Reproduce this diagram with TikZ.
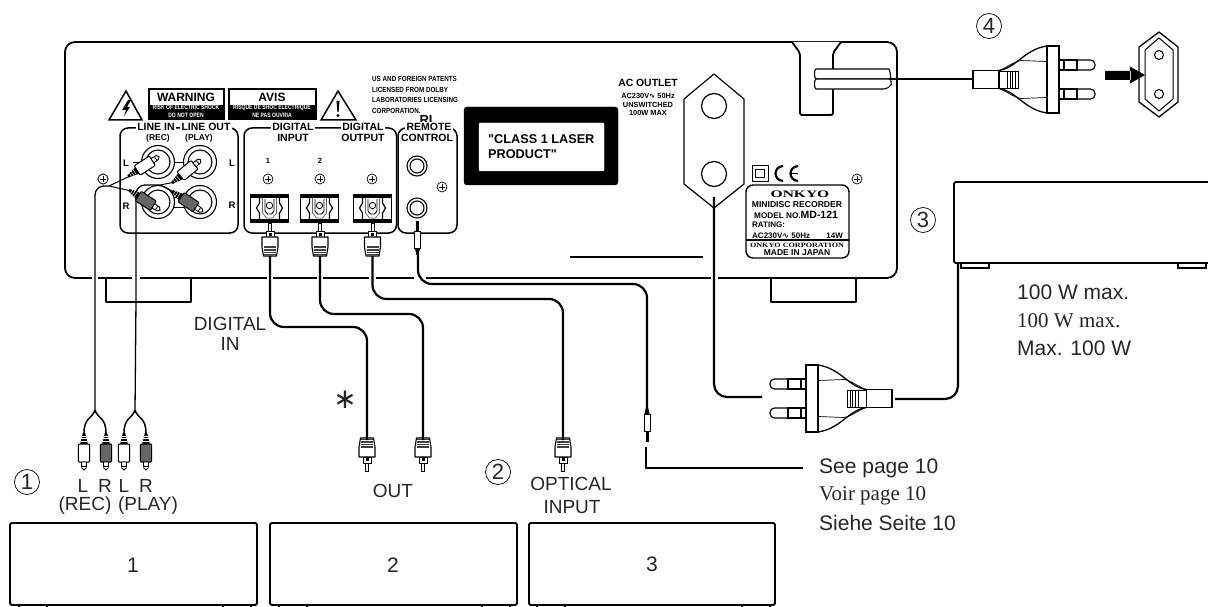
\documentclass[tikz,border=0pt]{standalone}
\usepackage{fontspec}
\setmainfont{Liberation Sans}
\newfontfamily\serifx{Liberation Serif}
\newfontfamily\djv{DejaVu Sans}
\newfontfamily\rawsans{Liberation Sans}
\newcommand{\fz}[1]{\fontsize{#1}{#1}\selectfont}
\newcommand{\wav}{{\djv\char"223F}}
\newcommand{\nar}[2]{\scalebox{#1}[1]{#2}}
\tikzset{
  outline/.style={draw=black,line width=1.8pt,line join=round},
  thinln/.style={draw=black,line width=0.8pt},
  cable/.style={draw=black,line width=2.2pt},
  rcawire/.style={draw=black,line width=1.3pt},
  lab/.style={inner sep=0pt,text=black!85,font=\fz{19}},
  big/.style={inner sep=0pt,text=black!85,font=\fz{21}},
  serifbig/.style={inner sep=0pt,text=black!85,font=\serifx\fz{21}},
  bd/.style={inner sep=0pt,font=\bfseries\fz{#1}},
  title/.style={fill=white,inner sep=1.2pt,font=\bfseries\fz{10.5}},
  screw/.style={draw=black,line width=0.7pt,fill=white},
  num/.style={draw=black,line width=0.7pt,circle,minimum size=25pt,inner sep=0pt,font=\fz{22},text=black!85},
}
% optical plug: (x,y) tip end; dir = 1 body below tip, -1 body above tip
\newcommand{\optplug}[3]{%
 \begin{scope}[shift={(#1,#2)},yscale=#3]
  \draw[line width=0.9pt,fill=white] (-1.5,0) rectangle (1.5,8);
  \draw[line width=0.9pt,fill=white] (-4,8) rectangle (4,14);
  \fill[black] (-1.5,10) rectangle (1.5,13);
  \draw[line width=1.1pt,fill=white,line join=round] (-8,14) -- (-8,24) -- (-6.5,33) -- (6.5,33) -- (8,24) -- (8,14) -- cycle;
  \fill[black!75] (-6,23) rectangle (6,32);
  \draw[white,line width=0.5pt] (-6,25.5) -- (6,25.5) (-6,28) -- (6,28) (-6,30.3) -- (6,30.3);
 \end{scope}}
% RCA plug: base at (x,y), paper angle, body fill
\newcommand{\rcaplug}[4]{%
 \begin{scope}[shift={(#1,#2)},rotate=#3]
  \fill[black] (0,-1.2) -- (11,-3.8) -- (11,3.8) -- (0,1.2) -- cycle;
  \draw[white,line width=0.45pt] (3,-2) -- (3,2) (5.5,-3) -- (5.5,3) (8,-3) -- (8,3);
  \draw[line width=1pt,fill=#4,rounded corners=1pt] (11,-5.6) rectangle (29,5.6);
  \draw[line width=0.9pt,fill=white] (29,-2.6) -- (35,-2.2) -- (37,0) -- (35,2.2) -- (29,2.6) -- cycle;
  \draw[line width=0.7pt] (33,-2.4) -- (33,2.4);
 \end{scope}}
% optical socket, centred on x
\newcommand{\optsock}[1]{%
 \begin{scope}[shift={(#1,0)}]
  \fill[black] (-19.5,194) rectangle (19.5,223);
  \fill[white] (-18.5,198) rectangle (18.5,218.5);
  \draw[line width=1.2pt] (-10,198) -- (-10,203) -- (-13,208) -- (-10,213) -- (-10,219);
  \draw[line width=1.2pt] (10,198) -- (10,203) -- (13,208) -- (10,213) -- (10,219);
  \draw[black!60,line width=0.7pt] (-7,198) -- (-7,213) -- (-3,218) -- (3,218) -- (7,213) -- (7,198);
  \draw[line width=0.9pt] (-4.5,199) -- (-4.5,211) -- (-2,214) -- (2,214) -- (4.5,211) -- (4.5,199);
  \draw[line width=0.8pt] (0,205.5) circle (3.2);
 \end{scope}}
% jack plug: (x,y) tip end; dir
\newcommand{\jackplug}[3]{%
 \begin{scope}[shift={(#1,#2)},yscale=#3]
  \draw[line width=0.9pt,fill=black] (-1,0) rectangle (1,10);
  \draw[line width=0.8pt,fill=white] (-3,10) rectangle (3,27);
  \fill[black] (-2.6,27) -- (2.6,27) -- (1,34) -- (-1,34) -- cycle;
 \end{scope}}
\newcommand{\screwat}[2]{%
  \draw[screw] (#1,#2) circle (5);
  \draw[line width=0.7pt] (#1-3,#2) -- (#1+3,#2) (#1,#2-3) -- (#1,#2+3);}
% mains plug; shift, xscale
\newcommand{\mainsplug}[3]{%
 \begin{scope}[shift={(#1,#2)},xscale=#3]
  \foreach \v in {-14.5,14.5}{
   \draw[line width=1.2pt,fill=white,rounded corners=4.5pt] (-18,\v-5) -- (-36,\v-5) -- (-36,\v+5) -- (-18,\v+5);
   \draw[line width=1.2pt,fill=white] (-18,\v-5) rectangle (0,\v+5);
   \draw[line width=1.2pt] (-5,\v-5) -- (-5,\v+5);
  }
  \draw[line width=1.3pt,fill=white] (12,-33.5) .. controls (35,-30) and (42,-12) .. (60,-9)
     -- (60,9) .. controls (42,12) and (35,30) .. (12,33.5) -- cycle;
  \draw[line width=0.7pt] (12,-18) -- (38,-19) .. controls (45,-18) and (52,-12) .. (60,-9);
  \draw[line width=0.7pt] (12,18) -- (38,19) .. controls (45,18) and (52,12) .. (60,9);
  \draw[line width=1.3pt,fill=white] (0,-33.5) rectangle (12,33.5);
  \draw[line width=1.3pt,fill=white] (60,-9) rectangle (86,9);
  \draw[line width=0.6pt,fill=white] (41,-8.5) rectangle (60,8.5);
  \draw[line width=0.5pt] (44,-8.5) -- (44,8.5) (46.5,-8.5) -- (46.5,8.5) (49,-8.5) -- (49,8.5) (52,-8.5) -- (52,8.5);
 \end{scope}}
\begin{document}
\begin{tikzpicture}[x=1pt,y=-1pt]
\clip (0,0) rectangle (1208,607);
\fill[white] (0,0) rectangle (1208,607);
% --- main chassis
\draw[outline,rounded corners=10pt] (65,42) rectangle (897,278);
\draw[outline] (106,278) -- (106,302) -- (191,302) -- (191,278);
\draw[outline] (771,278) -- (771,302) -- (856,302) -- (856,278);
\foreach \a/\b in {92/98,132/140,267/273,317/323,369/376,414/426,711/718}{\fill[white] (\a,275) rectangle (\b,281);}
% handle
\draw[outline,fill=white,rounded corners=2pt] (792,42) -- (800,53) -- (800,115) -- (833,115) -- (833,53) -- (841,42);
\draw[line width=1.1pt,fill=white,rounded corners=5pt] (889,69) -- (821,69) .. controls (814,69) and (814,79) .. (821,79) -- (889,79);
\draw[line width=1.1pt,fill=white,rounded corners=5pt] (889,79) -- (821,79) .. controls (814,79) and (814,89) .. (821,89) -- (889,89) .. controls (891,85) and (891,73) .. (889,69);
% warnings
\fill[black] (148,88) rectangle (225,120);
\fill[white] (150,90) rectangle (223,105);
\fill[black] (228,88) rectangle (317,120);
\fill[white] (230,90) rectangle (315,105);
\node[bd=12] (warn) at (186,97.5) {WARNING};
\node[bd=12] (avis) at (272,97.5) {AVIS};
\node[bd=6.3,text=white] (w1) at (186,107.5) {\nar{.8}{RISK OF ELECTRIC SHOCK}};
\node[bd=6.3,text=white] (w2) at (186,115) {\nar{.8}{DO NOT OPEN}};
\node[bd=6.3,text=white] (a1) at (272,107.5) {\nar{.8}{RISQUE DE SHOC ELECTRIQUE}};
\node[bd=6.3,text=white] (a2) at (272,115) {\nar{.8}{NE PAS OUVRIA}};
\draw[line width=1.5pt,line join=miter] (126,91) -- (109,120) -- (142,120) -- cycle;
\fill[black] (128,100) -- (122,110) -- (126,110) -- (124,116) -- (130,107) -- (127,107) -- (131,100) -- cycle;
\draw[line width=1.5pt,line join=miter] (338,91) -- (321,120) -- (356,120) -- cycle;
\fill[black] (336.5,101) -- (339.5,101) -- (338.6,112) -- (337.4,112) -- cycle;
\fill[black] (338,115.5) circle (1.7);
% patents
\node[bd=7.4,anchor=west] (p1) at (372,78.5) {\nar{.85}{US AND FOREIGN PATENTS}};
\node[bd=7.4,anchor=west] (p2) at (372,90) {\nar{.85}{LICENSED FROM DOLBY}};
\node[bd=7.4,anchor=west] (p3) at (372,100) {\nar{.85}{LABORATORIES LICENSING}};
\node[bd=7.4,anchor=west] (p4) at (372,111) {\nar{.85}{CORPORATION.}};
\node[bd=13] (ri) at (426,120) {RI};
% panels
\draw[outline,rounded corners=8pt,line width=1.5pt] (120,128) rectangle (238,233);
\draw[outline,rounded corners=8pt,line width=1.5pt] (244,128) rectangle (396.5,233);
\draw[outline,rounded corners=8pt,line width=1.5pt] (398,128) rectangle (457,233);
\node[title] (li) at (156,127) {LINE IN};
\node[title] (lo) at (206,127) {LINE OUT};
\node[title] (di) at (293,127) {DIGITAL};
\node[title] (doo) at (363,127) {DIGITAL};
\node[title] (rm) at (429,127) {REMOTE};
\node[bd=10.5] (inp) at (293,137.5) {INPUT};
\node[bd=10.5] (oup) at (363,137.5) {OUTPUT};
\node[bd=10.5] (ct) at (427,137.5) {CONTROL};
\node[bd=8.5] (rec) at (158,138) {(REC)};
\node[bd=8.5] (ply) at (199,138) {(PLAY)};
\node[bd=9.5] (ll) at (126,163) {L};
\node[bd=9.5] (lr) at (126,206) {R};
\node[bd=9.5] (rl) at (232,163) {L};
\node[bd=9.5] (rr) at (232,205) {R};
\node[bd=7.5] (n1) at (268,161) {1};
\node[bd=7.5] (n2) at (320,161) {2};
% RCA sockets
\draw[thinln] (133,162) -- (141,162) (173,162) -- (185,162) (173,197) -- (185,197) (173,207) -- (185,207);
\foreach \x/\y in {158/162,200/162,158/202,200/202}{
  \draw[line width=1.1pt,fill=white] (\x,\y) circle (16.5);
  \draw[line width=1.1pt] (\x,\y) circle (12);
}
% remote jacks
\foreach \y in {166,208}{
  \draw[line width=1.1pt] (417,\y) circle (10);
  \draw[line width=1.1pt] (417,\y) circle (7);
}
\optsock{269.5}\optsock{319.5}\optsock{372.5}
\foreach \x/\y in {103/179,268/179,320/179,372/179,442/187,857/179}{\screwat{\x}{\y}}
% laser label
\draw[fill=black,rounded corners=3pt] (464,107) rectangle (618,185);
\draw[fill=white,draw=white,rounded corners=1pt] (479,123) rectangle (604,171);
\node[inner sep=0pt,font=\rawsans\bfseries\fz{12.7},anchor=west] (c1) at (488,139.5) {"CLASS 1 LASER};
\node[inner sep=0pt,font=\rawsans\bfseries\fz{12.7},anchor=west] (c2) at (488,154.5) {PRODUCT"};
% ac outlet
\node[bd=10.4] (ac) at (648,83) {AC OUTLET};
\node[bd=7.4] (ac1) at (648,96) {AC230V\wav\ 50Hz};
\node[bd=7.4] (ac2) at (648,104.5) {UNSWITCHED};
\node[bd=7.4] (ac3) at (648,113) {100W MAX};
\draw[line width=1.2pt,line join=round] (714,74) -- (744,99) -- (744,184) -- (714,208) -- (684,184) -- (684,99) -- cycle;
\draw[line width=1.2pt] (714,106) circle (12.5) (714,174) circle (12.5);
\draw[line width=1.4pt] (570,257) -- (703,257);
% CE + rating
\draw[line width=0.8pt] (752,165) rectangle (768,181);
\draw[line width=0.8pt] (755,169) rectangle (764,177);
\draw[line width=2.2pt] (783,166) .. controls (773,167) and (773,180) .. (783,181);
\draw[line width=2.2pt] (798,166) .. controls (788,167) and (788,180) .. (798,181);
\draw[line width=1.4pt] (790,173.5) -- (798,173.5);
\draw[line width=1.4pt,rounded corners=7pt] (746,185) rectangle (849,258);
\draw[line width=1.1pt] (746,240) -- (849,240);
\node[inner sep=0pt,font=\serifx\bfseries\fz{10}] (on) at (800,194) {\scalebox{1.55}[1]{ONKYO}};
\node[bd=8.6] (t1) at (797,205) {MINIDISC RECORDER};
\node[bd=8.2,anchor=west] (t2) at (754,214.5) {MODEL NO.{\fz{10.5}MD-121}};
\node[bd=8,anchor=west] (t3) at (752,225) {RATING:};
\node[bd=8,anchor=west] (t4) at (752,235.5) {AC230V\wav\ 50Hz};
\node[bd=8,anchor=east] (t5) at (843,235.5) {14W};
\node[inner sep=0pt,font=\serifx\bfseries\fz{6.5}] (t6) at (797,245) {\scalebox{1.25}[1]{ONKYO CORPORATION}};
\node[bd=8.5] (t7) at (797,253) {MADE IN JAPAN};
% top plug and socket
\coordinate (clip) at (889,79);
\coordinate (plugA) at (973,79);
\draw[cable] (clip) -- (plugA);
\mainsplug{1059}{79.5}{-1}
\node[num] (n4) at (989,26) {4};
\fill[black] (1105,71) rectangle (1131,80) (1130,66.5) -- (1145,75) -- (1130,83.5) -- cycle;
\draw[line width=1.3pt,line join=round] (1159,32) -- (1178,47) -- (1178,102) -- (1159,117) -- (1139,102) -- (1139,47) -- cycle;
\draw[line width=1pt,line join=round] (1159,38) -- (1173,50) -- (1173,99) -- (1159,111) -- (1145,99) -- (1145,50) -- cycle;
\draw[line width=1pt] (1159,55) circle (4.5) (1159,94) circle (4.5);
% right box
\draw[outline,rounded corners=1.5pt] (1215,182) -- (954,182) -- (954,263) -- (1215,263);
\draw[line width=1.3pt] (961,263) rectangle (989,268);
\draw[line width=1.3pt] (1178,263) rectangle (1206,268);
\node[num] (n3) at (923,220) {3};
\node[big,anchor=west] (w100a) at (1017,292) {100 W max.};
\node[serifbig,anchor=west] (w100b) at (1017,321) {100 W max.};
\node[big,anchor=west] (w100c) at (1017,348) {Max. 100 W};
% lower plug
\coordinate (cordA) at (714,197);
\coordinate (cordB) at (762,397);
\coordinate (cordC) at (958,263);
\coordinate (cordD) at (895,399);
\draw[cable,rounded corners=13pt] (cordA) |- (cordB);
\draw[cable,rounded corners=13pt] (cordC) |- (cordD);
\mainsplug{806}{398.5}{1}
% optical cables
\optplug{270}{223}{1}\optplug{320}{223}{1}\optplug{372.5}{223}{1}
\optplug{367}{471}{-1}\optplug{423}{471}{-1}\optplug{563}{471}{-1}
\coordinate (o1a) at (270,256); \coordinate (o1b) at (367,440);
\coordinate (o2a) at (320,256); \coordinate (o2b) at (423,440);
\coordinate (o3a) at (372.5,256); \coordinate (o3b) at (563,440);
\draw[cable,rounded corners=14pt] (o1a) |- (300,327) -| (o1b);
\draw[cable,rounded corners=14pt] (o2a) |- (350,314) -| (o2b);
\draw[cable,rounded corners=14pt] (o3a) |- (450,299) -| (o3b);
% jack
\jackplug{417.5}{221}{1}
\jackplug{647}{441}{-1}
\coordinate (j1) at (418,254); \coordinate (j2) at (647,407);
\draw[cable,rounded corners=14pt] (j1) |- (520,284) -| (j2);
\coordinate (seeA) at (646,447); \coordinate (seeB) at (803,468);
\draw[line width=1.2pt] (seeA) |- (seeB);
% RCA cables
\coordinate (r1top) at (109,186);
\coordinate (r2top) at (160,185);
\coordinate (r1bot) at (95,411);
\coordinate (r2bot) at (135,411);
\draw[rcawire,rounded corners=9pt] (r1top) -- (95,186) -- (r1bot);
\draw[rcawire,rounded corners=9pt] (r2top) -- (136,185) -- (136,300) -- (r2bot);
\draw[line width=1pt] (r1top) -- (129,176.5) (r1top) -- (129,190.5);
\draw[line width=1pt] (r2top) -- (173,182.5) (r2top) -- (172,191);
\rcaplug{128}{176.5}{33}{white}
\rcaplug{129}{190}{-33}{black!60}
\rcaplug{172}{183}{39}{white}
\rcaplug{172}{191}{-34}{black!60}
\screwat{103}{179}
\foreach \j/\a/\b in {95/84/106,135/124/146}{
  \draw[line width=1.5pt] (\j,411) .. controls (\j-3,418) and (\a,418) .. (\a,433);
  \draw[line width=1.5pt] (\j,411) .. controls (\j+3,418) and (\b,418) .. (\b,433);
  \fill[black] (\j,411) circle (1.5);
  \rcaplug{\a}{433}{-90}{white}
  \rcaplug{\b}{433}{-90}{black!60}
}
% lower labels
\node[lab] (tL1) at (83,486) {L};
\node[lab] (tR1) at (105,486) {R};
\node[lab] (tL2) at (124,486) {L};
\node[lab] (tR2) at (146,486) {R};
\node[lab] (tRec) at (85,506) {(REC)};
\node[lab] (tPly) at (148,506) {(PLAY)};
\node[lab] (tOut) at (393,491) {OUT};
\node[lab] (tOp) at (571,484) {OPTICAL};
\node[lab] (tIn) at (572,507) {INPUT};
\node[lab] (tDg) at (230,324) {DIGITAL};
\node[lab] (tDi) at (230,344) {IN};
\node[inner sep=0pt,font=\djv\fz{28},text=black!85] (star) at (345,400) {\char"2217};
\node[big,anchor=west] (s1) at (819,468) {See page 10};
\node[serifbig,anchor=west] (s2) at (819,496) {Voir page 10};
\node[big,anchor=west] (s3) at (819,523) {Siehe Seite 10};
\node[num] (n1c) at (27,482) {1};
\node[num] (n2c) at (498,472) {2};
% lower boxes
\foreach \l/\r/\t/\fa/\fb in {10/257/1/19/223,270/517/2/279/482,529/775/3/537/742}{
  \draw[outline,rounded corners=1.5pt] (\l,523) rectangle (\r,605);
  \draw[line width=1.3pt] (\fa,605) rectangle (\fa+28,610);
  \draw[line width=1.3pt] (\fb,605) rectangle (\fb+28,610);
}
\node[big] (b1) at (133,565) {1};
\node[big] (b2) at (393,565) {2};
\node[big] (b3) at (652,564) {3};
\end{tikzpicture}
\end{document}
